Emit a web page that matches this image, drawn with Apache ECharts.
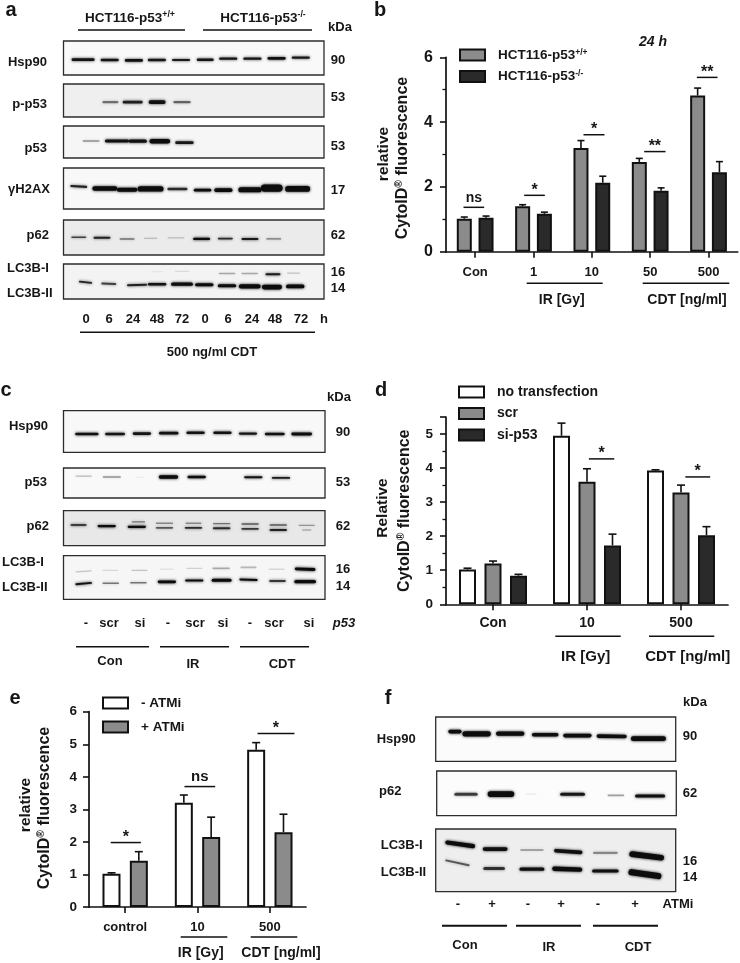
<!DOCTYPE html>
<html><head><meta charset="utf-8">
<style>html,body{margin:0;padding:0;background:#fff}#c{width:740px;height:963px}</style>
<script src="https://cdn.jsdelivr.net/npm/echarts@6/dist/echarts.min.js"></script></head>
<body><div id="c"></div>
<script>
// ---------- bar chart data ----------
const bCats=['Con','1','10','50','500'];
const bWild=[1.02,1.4,3.2,2.77,4.82];
const bWildTop=[1.07,1.45,3.43,2.88,5.05];
const bNull=[1.05,1.17,2.13,1.88,2.45];
const bNullTop=[1.1,1.22,2.33,1.97,2.78];
const dCats=['Con','10','500'];
const dNone=[1.02,4.95,3.93];
const dNoneTop=[1.06,5.32,3.95];
const dScr=[1.2,3.6,3.28];
const dScrTop=[1.27,3.98,3.5];
const dSi=[0.84,1.73,2.03];
const dSiTop=[0.88,2.06,2.28];
const eCats=['control','10','500'];
const eMinus=[1.02,3.2,4.83];
const eMinusTop=[1.05,3.44,5.05];
const ePlus=[1.42,2.15,2.3];
const ePlusTop=[1.7,2.76,2.85];
// significance: category, value, from, to (fraction of category band), mark
const bSig=[[0,1.37,-.2,.154,'ns'],[1,1.74,-.16,.194,'*'],[2,3.61,-.143,.217,'*'],[3,3.09,-.103,.263,'**'],[4,5.38,-.2,.154,'**']];
const dSig=[[1,4.27,.02,.29,'*'],[2,3.74,.046,.31,'*']];
const eSig=[[0,1.98,-.2,.217,'*'],[1,3.7,-.18,.245,'ns'],[2,5.33,-.17,.34,'*']];
// ---------- blot bands: lane, height %, width (lanes), thickness %, darkness, tilt ----------
const aHsp90=[[0,55,.95,10,.92],[1.1,56,.75,10,.92],[2.1,57,.75,11,.95],[3.05,56,.75,9,.9],[4.05,56,.75,8,.9],[5.05,55,.7,9,.92],[6,52,.75,9,.92],[7,52,.75,9,.92],[8,51,.75,10,.95],[9,49,.75,8,.9]];
const aPp53=[[1.13,55,.66,8,.5],[2.05,55,.83,11,.85],[3.06,55,.7,14,.95],[4.09,55,.72,9,.55]];
const aP53=[[.33,46.5,.7,6,.4],[1.4,46.5,1,12,.95],[2.26,47.5,.75,13,.95],[3.17,47.5,.85,18,1],[4.19,52,.76,11,.9]];
const aH2ax=[[-.18,45,.7,6.5,.85,-3],[.9,50,1.03,14.6,1],[1.82,53,.85,13,1],[2.79,51,1.07,16,1],[3.9,51,.83,8,.8],[4.94,54,.72,9,1],[5.8,54,.75,11.4,1],[6.9,53,.96,16,1],[7.8,49,.9,23,1],[8.87,51,1.03,18,1]];
const aP62=[[-.18,49,.62,5.5,.7],[.78,51,.7,7.4,.85],[1.82,54,.62,5.5,.5],[2.79,52,.55,3.7,.25],[3.84,51,.7,4.6,.2],[4.9,54,.7,8.3,1],[5.88,53,.62,6.5,.8],[6.9,54,.7,7.4,.9],[7.88,54,.62,4.6,.5]];
const aLc3=[[.1,52,.55,6.5,.85,-6],[1.06,56.5,.62,7.4,.7,-3],[2.23,60,.83,7.4,.85,2],[3.06,58,.76,9.3,.95],[4.09,57.5,.9,11,1],[5.01,59,.76,11,1],[5.95,62,.76,11,1],[6.89,64,.9,15.7,1],[7.81,66,.83,16.7,1],[8.77,64,.76,14,1],[5.95,27,.69,5.5,.3],[6.89,27,.69,5.5,.3],[7.85,29.6,.62,7.4,.9],[8.7,26,.55,4.6,.2],[4.09,21,.6,4,.1],[3.06,22,.5,4,.07]];
const cHsp90=[[0,56,.87,8,.95],[1.05,56,.74,8,.92],[2.05,55,.68,8,.92],[3.05,54,.72,8,.95],[4.05,53,.68,8,.95],[5.05,53,.68,8,.95],[6,55,.68,7,.92],[7,56,.74,8,.95],[8,56,.77,9,.98]];
const cP53=[[-.12,27,.62,6,.25],[.93,30,.68,7,.4],[1.99,31,.31,4.5,.06],[3.04,30,.72,14,1],[4.09,30,.68,11,1],[6.2,31,.68,9,.95],[7.23,33,.68,8,.9]];
const cP62=[[-.31,41,.6,6,.9],[.74,44,.68,8.5,1],[1.86,46,.68,8.5,1],[1.92,32,.5,5,.5],[2.89,36,.65,5,.4],[2.89,49,.65,6,.6],[3.97,36,.6,5,.4],[3.97,49,.65,7,.8],[5.02,37,.65,5,.5],[5.02,50,.65,7,.8],[6.08,38,.65,5,.6],[6.08,52,.65,6,.75],[7.13,41,.65,5,.6],[7.13,55,.65,7,.85],[8.19,42,.6,4,.35],[8.19,55,.35,5,.25]];
const cLc3=[[-.12,64,.62,5.3,.95,5],[.89,63,.62,4.6,.5],[1.92,62,.62,4.6,.5],[2.98,60,.68,7.6,1],[4,57,.68,6,1],[5.02,56.5,.74,9,1],[6.02,55,.68,6,1,-2],[7.1,58,.62,4.6,.95],[8.13,59.5,.81,10,1],[-.12,36,.6,4,.2,4],[.87,33.5,.6,4,.12],[1.96,33.5,.6,4,.2],[2.98,31,.5,4,.08],[4,29,.6,4,.15],[5,29,.65,5,.3],[6.02,27,.6,5,.25],[7.07,31,.6,4,.12],[8.13,31,.77,8.4,1,-2]];
const fHsp90=[[-.1,33,.38,10.5,1],[.52,38,.81,15,1],[1.48,37.6,.81,12,1],[2.48,40,.76,10.5,.98],[3.4,42,.81,10.5,1],[4.38,43.6,.86,10.5,.98,-1],[5.43,49,1,13.5,1]];
const fP62=[[.19,52,.67,9,.7],[1.19,51.5,.76,16.4,1],[2.05,51.5,.33,3.7,.08],[3.24,52,.71,9,.9],[4.48,54.5,.48,5.2,.35],[5.46,56,.86,9,.95]];
const fLc3=[[.05,24.5,.86,8.5,1,-8],[1.05,32,.71,7.5,.95],[2.1,33.5,.67,3.7,.3],[3.14,36,.81,7.5,.95,-4],[4.2,38,.71,4.3,.4],[5.38,43,1,11.7,1,-7],[-.03,54,.71,3.7,.6,-12],[1.02,63,.62,6.4,.75],[2.1,64,.71,6.4,.95],[3.11,64,.86,9,1,-2],[4.2,67,.76,6.4,.95],[5.33,72,.95,12.8,1,-8]];

// ---------- layout ----------
const F='"Liberation Sans",Arial,sans-serif', INK='#161616';
const GRAY='#8b8b8b', DARK='#2a2a2a', WHITE='#ffffff';
const grid=[],xAxis=[],yAxis=[],series=[],legend=[],graphics=[];

function blot(bands,box,range,bg){
  const i=grid.length;
  grid.push({left:box[0],top:box[1],width:box[2]-box[0],height:box[3]-box[1],show:true,backgroundColor:bg||'#f6f6f6',borderColor:'#2c2c2c',borderWidth:1.3,containLabel:false});
  xAxis.push({gridIndex:i,type:'value',min:range[0],max:range[1],show:false});
  yAxis.push({gridIndex:i,type:'value',min:0,max:100,inverse:true,show:false});
  series.push({type:'custom',xAxisIndex:i,yAxisIndex:i,silent:true,clip:true,
    data:bands.map(b=>[b[0],b[1],b[2],b[3],b[4],b[5]||0]),
    renderItem(p,api){
      const c=api.coord([api.value(0),api.value(1)]);
      const s=api.size([api.value(2),api.value(3)]);
      const a=api.value(4);
      const col='rgba(12,12,12,'+a+')';
      const h=s[1]*.78;
      return {type:'rect',x:c[0],y:c[1],rotation:api.value(5)*Math.PI/180,
        shape:{x:-s[0]/2,y:-h/2,width:s[0],height:h,r:h/2},
        style:{fill:col,shadowBlur:3,shadowColor:col}};
    }});
}
function tops(i,cats,sets,half,sep,sizes){
  const n=sets.length;
  sets.forEach((s,k)=>{
    series.push({name:s.name,type:'bar',xAxisIndex:i,yAxisIndex:i,data:s.values,barWidth:sizes.bar,barGap:sizes.gap,z:2,
      itemStyle:{color:s.color,borderColor:'#111',borderWidth:2},emphasis:{disabled:true}});
    const off=(k-(n-1)/2)*sep;
    series.push({type:'custom',xAxisIndex:i,yAxisIndex:i,silent:true,z:1,clip:false,
      data:s.top.map((t,j)=>[j,t,s.values[j]]),
      renderItem(p,api){
        const a=api.coord([api.value(0),api.value(1)]);
        const b=api.coord([api.value(0),api.value(2)]);
        const x=a[0]+off;
        const st={stroke:'#111',lineWidth:1.6,fill:null};
        return {type:'group',children:[
          {type:'line',shape:{x1:x,y1:a[1],x2:x,y2:b[1]},style:st},
          {type:'line',shape:{x1:x-half,y1:a[1],x2:x+half,y2:a[1]},style:st}]};
      }});
  });
}
function sig(i,rows,nsFont){
  series.push({type:'custom',xAxisIndex:i,yAxisIndex:i,silent:true,z:3,clip:false,
    data:rows.map(r=>[r[0],r[1],r[2],r[3]]),
    renderItem(p,api){
      const c=api.coord([api.value(0),api.value(1)]);
      const w=api.size([1,0])[0];
      const x1=c[0]+api.value(2)*w,x2=c[0]+api.value(3)*w;
      const mark=rows[p.dataIndex][4],ns=mark==='ns';
      return {type:'group',children:[
        {type:'line',shape:{x1,y1:c[1],x2,y2:c[1]},style:{stroke:'#111',lineWidth:1.5}},
        {type:'text',x:(x1+x2)/2,y:ns?c[1]-2:c[1]+3,style:{text:mark,fill:INK,font:'bold '+(ns?nsFont:16)+'px '+F,textAlign:'center',textVerticalAlign:'bottom',align:'center',verticalAlign:'bottom'}}]};
    }});
}
function chart(box,cats,maxV,interval,minor,tickFont,labelFont,catMargin,labelMargin){
  const i=grid.length;
  grid.push({left:box[0],top:box[1],width:box[2],height:box[3]});
  xAxis.push({gridIndex:i,type:'category',data:cats,
    axisLine:{lineStyle:{color:'#111',width:1.7}},axisTick:{show:true,length:6,lineStyle:{color:'#111',width:1.6},alignWithLabel:true},
    axisLabel:{fontFamily:F,fontWeight:'bold',fontSize:labelFont,color:INK,margin:catMargin,interval:0},boundaryGap:true});
  yAxis.push({gridIndex:i,type:'value',min:0,max:maxV,interval,splitLine:{show:false},
    axisLine:{show:true,lineStyle:{color:'#111',width:1.7}},axisTick:{show:true,length:6,lineStyle:{color:'#111',width:1.6}},
    minorTick:{show:minor>0,splitNumber:minor||2,length:3.5,lineStyle:{color:'#111',width:1.3}},
    axisLabel:{fontFamily:F,fontWeight:'bold',fontSize:tickFont,color:INK,margin:labelMargin,
      formatter:v=>(Number.isInteger(v)?String(v):'')}});
  return i;
}
function T(t,x,y,size,o){
  o=o||{};
  const al=o.a||'center';
  graphics.push({type:'text',x,y,rotation:o.r||0,silent:true,z:10,style:{text:t,fill:INK,
    fontFamily:F,fontWeight:'bold',fontStyle:o.i?'italic':'normal',fontSize:size,
    textAlign:al,align:al,textVerticalAlign:'middle',verticalAlign:'middle',rich:{sup:{fontFamily:F,fontWeight:'bold',fontSize:size*.65,verticalAlign:'top',lineHeight:size+2,fill:INK},m:{fontFamily:F,fontWeight:'bold',fontSize:size,lineHeight:size+2,fill:INK}}}});
}
function L(x1,x2,y,w){graphics.push({type:'line',silent:true,z:9,shape:{x1,y1:y,x2,y2:y},style:{stroke:'#111',lineWidth:w||1.5}});}
function legendFor(names,left,top,gap,size,offset){
  legend.push({data:names,orient:'vertical',left,top,itemWidth:25,itemHeight:11,itemGap:gap,padding:0,icon:'rect',selectedMode:false,
    formatter:n=>n.replace('+/+','{sup|+/+}').replace('-/-','{sup|-/-}'),
    textStyle:{fontFamily:F,fontWeight:'bold',fontSize:size,color:INK,padding:[0,0,0,offset],rich:{sup:{fontFamily:F,fontWeight:'bold',fontSize:8.5,color:INK,verticalAlign:'top',lineHeight:14}}}});
}
const V=Math.PI/2;

// ---------- panel a ----------
const aRange=[-.81,9.96];
blot(aHsp90,[63.5,41,324,75],aRange,'#f9f9f9');
blot(aPp53,[63.5,84,324,117],aRange,'#efefef');
blot(aP53,[63.5,126,324,158],aRange,'#f6f6f6');
blot(aH2ax,[63.5,168,324,209],aRange,'#f8f8f8');
blot(aP62,[63.5,220,324,255],aRange,'#ebebeb');
blot(aLc3,[63.5,264,324,299],aRange,'#f3f3f3');
T('a',11,10,20);
T('HCT116-p53{sup|+/+}',130,18,13.5);T('HCT116-p53{sup|-/-}',263,18,13.5);
L(78,185,30);L(203,312,30);T('kDa',340,27,13);
[['Hsp90',47,62],['p-p53',47,104],['p53',47,148],['γH2AX',50,189],['p62',49,235]].forEach(r=>T(r[0],r[1],r[2],13,{a:'right'}));
T('LC3B-I',7,268,13,{a:'left'});T('LC3B-II',7,293,13,{a:'left'});
[['90',60],['53',97],['53',146],['17',190],['62',235],['16',272],['14',288]].forEach(r=>T(r[0],338,r[1],13));
[['0',86],['6',109],['24',133],['48',157],['72',182],['0',205],['6',228],['24',252],['48',275],['72',301],['h',324]].forEach(r=>T(r[0],r[1],319,13));
L(80,315,332.3);T('500 ng/ml CDT',212,352,13);

// ---------- panel b ----------
let g=chart([446,57.3,291.7,194.4],bCats,6,2,2,16,13,14,13);
tops(g,bCats,[{name:'HCT116-p53+/+',color:GRAY,values:bWild,top:bWildTop},{name:'HCT116-p53-/-',color:DARK,values:bNull,top:bNullTop}],3.5,21.8,{bar:15,gap:'45%'});
sig(g,bSig,14);
legendFor(['HCT116-p53+/+','HCT116-p53-/-'],459,48,7.5,13.5,8);
T('b',380,10,20);T('24 h',653,42,14,{i:1});
T('relative',384,154,15.5,{r:V});T('CytoID{sup|®} fluorescence',403,158,16,{r:V});
L(526.7,602.7,283.3);L(642.7,729.3,283.3);
T('IR [Gy]',561.7,300,14);T('CDT [ng/ml]',687,300,14);

// ---------- panel c ----------
const cRange=[-.87,8.87];
blot(cHsp90,[63.5,410.7,325,452.3],cRange,'#f8f8f8');
blot(cP53,[63.5,468,325,498],cRange,'#f9f9f9');
blot(cP62,[63.5,510.7,325,545.7],cRange,'#e8e8e8');
blot(cLc3,[63.5,555.7,325,599.3],cRange,'#f6f6f6');
T('c',6,390,20);T('kDa',339,397,13);
T('Hsp90',48,426.7,13,{a:'right'});T('p53',47,482,13,{a:'right'});T('p62',49,526,13,{a:'right'});
T('LC3B-I',2,562,13,{a:'left'});T('LC3B-II',2,587,13,{a:'left'});
[['90',432],['53',482],['62',526],['16',569],['14',586]].forEach(r=>T(r[0],343,r[1],13));
[['-',86],['scr',109],['si',140],['-',168],['scr',195],['si',223],['-',250],['scr',274],['si',309]].forEach(r=>T(r[0],r[1],623.3,13));
T('p53',344,623.3,13,{i:1});
L(76,149,646.7);L(160,229,646.7);L(240,309,646.7);
T('Con',110,661.7,13);T('IR',193,664,13);T('CDT',282,664,13);

// ---------- panel d ----------
g=chart([446,417,282,187.3],dCats,5.5,1,2,13.5,14,12,13);
tops(g,dCats,[{name:'no transfection',color:WHITE,values:dNone,top:dNoneTop},{name:'scr',color:GRAY,values:dScr,top:dScrTop},{name:'si-p53',color:DARK,values:dSi,top:dSiTop}],4,25.5,{bar:17,gap:'50%'});
sig(g,dSig,14);
legendFor(['no transfection','scr','si-p53'],458,385,7.5,14,8);
T('d',381,390,20);
T('Relative',382.7,508,15.5,{r:V});T('CytoID{sup|®} fluorescence',405,510.7,16,{r:V});
L(555.3,620.7,636.3);L(649,714.3,636.3);
T('IR [Gy]',585.7,656.7,15);T('CDT [ng/ml]',687.7,656.7,15);

// ---------- panel e ----------
g=chart([89,711.7,217,195.3],eCats,6,1,0,13.5,13,14,12);
tops(g,eCats,[{name:'- ATMi',color:WHITE,values:eMinus,top:eMinusTop},{name:'+ ATMi',color:GRAY,values:ePlus,top:ePlusTop}],4,27.3,{bar:18,gap:'52%'});
sig(g,eSig,15);
legendFor(['- ATMi','+ ATMi'],102,696,10,13.5,8);
T('e',15,698,20);
T('relative',26,805,15.5,{r:V});T('CytoID{sup|®} fluorescence',45,808,16,{r:V});
L(180.7,227.3,937);L(250.7,297.3,937);
T('IR [Gy]',200.7,953,14);T('CDT [ng/ml]',281,953,14);

// ---------- panel f ----------
const fRange=[-.65,6.21];
blot(fHsp90,[435.7,717,675.7,761.3],fRange,'#fbfbfb');
blot(fP62,[436.7,771,676.3,815.7],fRange,'#fcfcfc');
blot(fLc3,[435.7,829,675.7,891.7],fRange,'#eeeeee');
T('f',388,698,20);T('kDa',695,702.7,13);
T('Hsp90',376.7,739,13,{a:'left'});T('p62',379,791.7,13,{a:'left'});
T('LC3B-I',380.7,845,13,{a:'left'});T('LC3B-II',380.7,872.7,13,{a:'left'});
[['90',736.7],['62',793],['16',861],['14',877.7]].forEach(r=>T(r[0],690,r[1],13));
[['-',458],['+',492],['-',528],['+',561],['-',598],['+',635]].forEach(r=>T(r[0],r[1],904,13));
T('ATMi',678,904,13);
L(442,507,925.7,2);L(516,581,925.7,2);L(593,658,925.7,2);
T('Con',465,945,13);T('IR',549,947,13);T('CDT',638,947,13);

const chartEl=echarts.init(document.getElementById('c'),null,{renderer:'canvas'});
chartEl.setOption({animation:false,backgroundColor:'#fff',tooltip:{show:false},grid,xAxis,yAxis,series,legend,graphic:{elements:graphics}});
</script></body></html>
